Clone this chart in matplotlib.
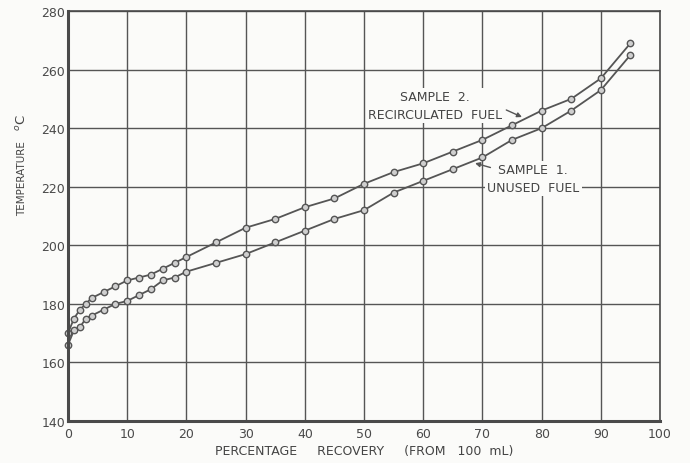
import matplotlib
matplotlib.use("Agg")
import matplotlib.pyplot as plt

# percentage recovery (from 100 mL)
recovery = [0, 1, 2, 3, 4, 6, 8, 10, 12, 14, 16, 18, 20, 25, 30, 35, 40,
            45, 50, 55, 60, 65, 70, 75, 80, 85, 90, 95]
# temperature, deg C
sample2_recirc = [170, 175, 178, 180, 182, 184, 186, 188, 189, 190, 192, 194,
                  196, 201, 206, 209, 213, 216, 221, 225, 228, 232, 236, 241,
                  246, 250, 257, 269]
sample1_unused = [166, 171, 172, 175, 176, 178, 180, 181, 183, 185, 188, 189,
                  191, 194, 197, 201, 205, 209, 212, 218, 222, 226, 230, 236,
                  240, 246, 253, 265]

x_ticks = list(range(0, 101, 10))
y_ticks = list(range(140, 281, 20))

ink = "#4a4a4a"
bg = "#fbfbf9"
plt.rcParams['font.family'] = ['DejaVu Sans']

fig = plt.figure(figsize=(6.9, 4.64), dpi=100)
fig.patch.set_facecolor(bg)
ax = fig.add_axes([0.0986, 0.0905, 0.858, 0.8836])
ax.set_facecolor(bg)

ax.set_xlim(0, 100)
ax.set_ylim(140, 280)
ax.set_xticks(x_ticks)
ax.set_yticks(y_ticks)
ax.grid(True, color="#555555", linewidth=1.0)
ax.set_axisbelow(True)
for s in ax.spines.values():
    s.set_color(ink)
    s.set_linewidth(1.2)
ax.spines["left"].set_linewidth(2.2)
ax.spines["bottom"].set_linewidth(2.2)
ax.tick_params(length=0, labelsize=9, colors="#4a4a4a")
ax.tick_params(axis="y", pad=2)
ax.tick_params(axis="x", pad=4)

mk = dict(marker="o", markersize=4.6, markerfacecolor="#cfcfcf",
          markeredgecolor="#555555", markeredgewidth=1.0,
          color="#555555", linewidth=1.3, clip_on=False)
ax.plot(recovery, sample2_recirc, **mk)
ax.plot(recovery, sample1_unused, **mk)

box = dict(facecolor=bg, edgecolor="none", pad=1.5)
ax.text(62.0, 247.8, "SAMPLE  2.\nRECIRCULATED  FUEL", ha="center",
        va="center", fontsize=9, color="#444444", linespacing=1.5, bbox=box)
ax.annotate("", xy=(77.1, 243.4), xytext=(73.6, 246.6),
            arrowprops=dict(arrowstyle="-|>", color="#555555", lw=1.0,
                            mutation_scale=7))
ax.text(78.6, 222.7, "SAMPLE  1.\nUNUSED  FUEL", ha="center",
        va="center", fontsize=9, color="#444444", linespacing=1.5, bbox=box)
ax.annotate("", xy=(68.3, 228.3), xytext=(71.8, 226.3),
            arrowprops=dict(arrowstyle="-|>", color="#555555", lw=1.0,
                            mutation_scale=7))

ax.set_xlabel("PERCENTAGE     RECOVERY     (FROM   100  mL)", fontsize=9,
              color="#444444", labelpad=3)
fig.text(0.032, 0.615, "TEMPERATURE", rotation=90, ha="center", va="center",
         fontsize=7.5, color="#444444")
fig.text(0.032, 0.735, "$^{o}$C", rotation=90, ha="center", va="center",
         fontsize=9.5, color="#444444")

fig.savefig("out.png", dpi=100, facecolor=fig.get_facecolor())
